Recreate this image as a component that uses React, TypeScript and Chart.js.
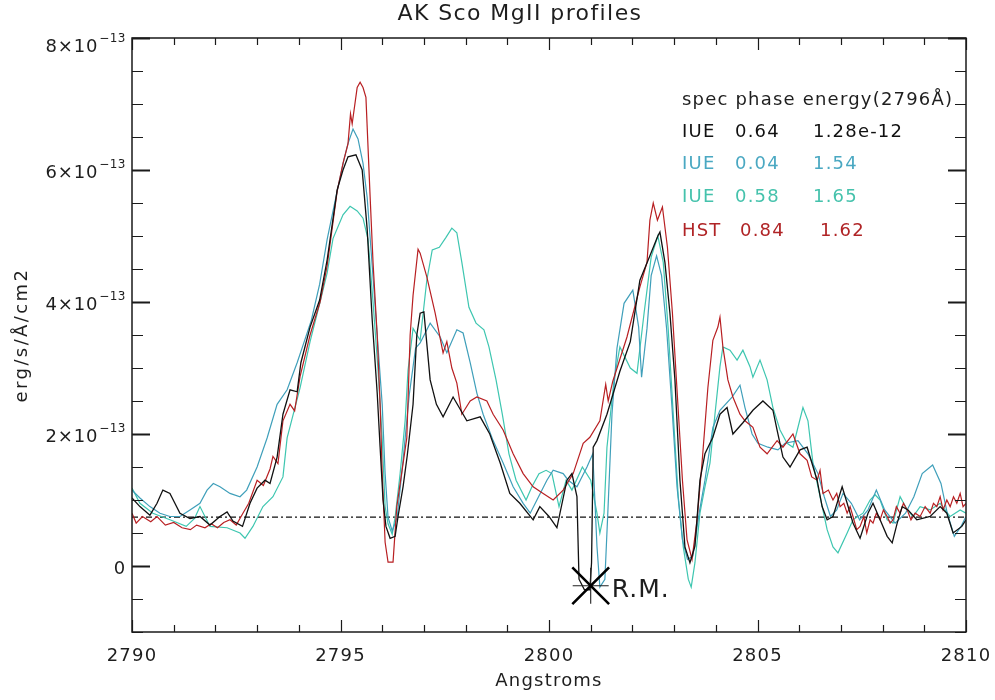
import React, { useEffect, useRef } from 'react';
import { Chart, registerables } from 'chart.js';

Chart.register(...registerables);

// ---------- axes ----------
const X_MIN = 2790;
const X_MAX = 2810;
const Y_MIN = -1; // flux in units of 1e-13 erg/s/Å/cm2
const Y_MAX = 8;
const xMajorTicks = [2790, 2795, 2800, 2805, 2810];
const xMinorStep = 1;
const yMajorTicks = [0, 2, 4, 6, 8];
const yMinorStep = 0.5;
const yExponent = '−13';

const titleText = 'AK Sco MgII profiles';
const xTitle = 'Angstroms';
const yTitle = 'erg/s/Å/cm2';

// ---------- legend table ----------
const legendHeader = 'spec phase energy(2796Å)';
const legendSpec = ['IUE', 'IUE', 'IUE', 'HST'];
const legendPhase = ['0.64', '0.04', '0.58', '0.84'];
const legendEnergy = ['1.28e-12', '1.54', '1.65', '1.62'];
const seriesColors = ['#111111', '#3f9fba', '#3ec6b0', '#b81f22'];
const legendTextColors = ['#111111', '#4aa8c2', '#45c2ac', '#b02426'];

// ---------- reference markers ----------
const baselineLevel = 0.74;
const rmPoint = { x: 2801.0, y: -0.3 };
const rmLabel = 'R.M.';

// ---------- spectra: [wavelength Å, flux (1e-13 erg/s/Å/cm2)] ----------
const iue064: [number, number][] = [
  [2790.0, 1.03], [2790.19, 0.9], [2790.43, 0.77], [2790.6, 0.95], [2790.74, 1.15], [2790.91, 1.1],
  [2791.15, 0.8], [2791.39, 0.72], [2791.63, 0.75], [2791.87, 0.62], [2792.11, 0.75], [2792.28, 0.82],
  [2792.42, 0.68], [2792.65, 0.6], [2792.83, 0.95], [2793.0, 1.18], [2793.19, 1.3], [2793.31, 1.25],
  [2793.48, 1.65], [2793.62, 2.3], [2793.79, 2.67], [2793.96, 2.64], [2794.05, 3.08], [2794.27, 3.62],
  [2794.5, 4.03], [2794.68, 4.64], [2794.92, 5.7], [2795.06, 6.0], [2795.18, 6.2], [2795.37, 6.23],
  [2795.52, 6.0], [2795.64, 5.1], [2795.76, 3.73], [2795.88, 2.62], [2795.95, 1.8], [2796.02, 1.0],
  [2796.09, 0.6], [2796.19, 0.42], [2796.31, 0.45], [2796.38, 0.75], [2796.5, 1.2], [2796.6, 1.67],
  [2796.74, 2.45], [2796.83, 3.5], [2796.91, 3.83], [2797.0, 3.85], [2797.15, 2.82], [2797.3, 2.45],
  [2797.46, 2.26], [2797.7, 2.56], [2798.03, 2.2], [2798.35, 2.26], [2798.58, 2.0], [2798.83, 1.56],
  [2799.06, 1.1], [2799.3, 0.95], [2799.62, 0.7], [2799.78, 0.9], [2800.0, 0.75], [2800.19, 0.58],
  [2800.43, 1.3], [2800.55, 1.4], [2800.67, 1.05], [2800.72, -0.2], [2800.85, -0.36], [2800.98, -0.36],
  [2801.02, 0.05], [2801.06, 1.8], [2801.15, 1.9], [2801.39, 2.3], [2801.7, 2.95], [2801.95, 3.4],
  [2802.18, 4.33], [2802.42, 4.7], [2802.61, 5.0], [2802.66, 5.06], [2802.78, 4.6], [2802.9, 3.83],
  [2803.02, 2.82], [2803.14, 1.3], [2803.26, 0.29], [2803.38, 0.05], [2803.5, 0.3], [2803.62, 1.3],
  [2803.74, 1.7], [2803.93, 1.95], [2804.1, 2.3], [2804.27, 2.4], [2804.41, 2.0], [2804.65, 2.17],
  [2804.89, 2.36], [2805.13, 2.5], [2805.37, 2.36], [2805.47, 2.06], [2805.61, 1.65], [2805.78, 1.5],
  [2806.02, 1.76], [2806.19, 1.8], [2806.43, 1.3], [2806.55, 0.9], [2806.67, 0.7], [2806.81, 0.75],
  [2807.03, 1.2], [2807.15, 0.95], [2807.29, 0.65], [2807.46, 0.42], [2807.65, 0.8], [2807.77, 0.95],
  [2807.94, 0.7], [2808.11, 0.45], [2808.23, 0.35], [2808.35, 0.65], [2808.47, 0.9], [2808.61, 0.85],
  [2808.82, 0.7], [2809.14, 0.75], [2809.38, 0.9], [2809.54, 0.8], [2809.69, 0.5], [2809.9, 0.6],
  [2810.0, 0.7],
];

const iue004: [number, number][] = [
  [2790.0, 1.15], [2790.19, 1.03], [2790.43, 0.9], [2790.67, 0.8], [2790.91, 0.75], [2791.15, 0.75],
  [2791.39, 0.85], [2791.63, 0.95], [2791.8, 1.15], [2791.95, 1.25], [2792.11, 1.2], [2792.35, 1.1],
  [2792.59, 1.05], [2792.75, 1.15], [2793.0, 1.5], [2793.24, 1.94], [2793.48, 2.45], [2793.72, 2.67],
  [2793.96, 3.08], [2794.13, 3.4], [2794.3, 3.72], [2794.5, 4.27], [2794.68, 4.95], [2794.92, 5.68],
  [2795.08, 6.15], [2795.18, 6.4], [2795.3, 6.62], [2795.42, 6.47], [2795.54, 6.1], [2795.64, 5.58],
  [2795.76, 4.55], [2795.88, 3.5], [2796.0, 2.45], [2796.07, 1.4], [2796.14, 0.74], [2796.24, 0.53],
  [2796.36, 0.74], [2796.5, 1.6], [2796.65, 2.6], [2796.8, 3.3], [2796.91, 3.38], [2797.15, 3.68],
  [2797.39, 3.47], [2797.55, 3.23], [2797.79, 3.58], [2797.94, 3.53], [2798.11, 3.08], [2798.27, 2.62],
  [2798.42, 2.3], [2798.66, 1.9], [2798.9, 1.56], [2799.14, 1.2], [2799.38, 0.95], [2799.55, 0.8],
  [2799.71, 1.0], [2799.95, 1.3], [2800.1, 1.45], [2800.34, 1.4], [2800.46, 1.3], [2800.67, 1.2],
  [2800.91, 1.5], [2801.05, 1.7], [2801.15, 0.3], [2801.22, -0.32], [2801.34, -0.2], [2801.41, 0.8],
  [2801.51, 2.3], [2801.63, 3.3], [2801.8, 3.98], [2802.01, 4.18], [2802.15, 3.62], [2802.22, 2.86],
  [2802.35, 3.6], [2802.45, 4.4], [2802.58, 4.7], [2802.7, 4.4], [2802.82, 3.6], [2802.95, 2.4],
  [2803.07, 1.2], [2803.2, 0.4], [2803.32, 0.1], [2803.45, 0.15], [2803.6, 0.8], [2803.74, 1.3],
  [2803.93, 2.1], [2804.1, 2.36], [2804.39, 2.56], [2804.58, 2.74], [2804.7, 2.4], [2804.87, 2.0],
  [2805.01, 1.86], [2805.25, 1.8], [2805.49, 1.76], [2805.66, 1.86], [2805.97, 1.9], [2806.21, 1.7],
  [2806.45, 1.4], [2806.6, 1.05], [2806.75, 0.75], [2806.9, 0.85], [2807.05, 1.1], [2807.25, 0.95],
  [2807.45, 0.7], [2807.65, 0.85], [2807.85, 1.15], [2808.05, 0.85], [2808.3, 0.65], [2808.55, 0.8],
  [2808.75, 1.05], [2808.95, 1.4], [2809.2, 1.53], [2809.4, 1.25], [2809.55, 0.8], [2809.72, 0.45],
  [2809.88, 0.6], [2810.0, 0.75],
];

const iue058: [number, number][] = [
  [2790.0, 1.18], [2790.19, 0.95], [2790.5, 0.8], [2790.91, 0.7], [2791.3, 0.6], [2791.5, 0.72],
  [2791.63, 0.9], [2791.87, 0.6], [2792.28, 0.58], [2792.59, 0.5], [2792.71, 0.42], [2792.9, 0.6],
  [2793.14, 0.9], [2793.38, 1.05], [2793.62, 1.35], [2793.72, 1.94], [2794.03, 2.7], [2794.27, 3.4],
  [2794.51, 4.0], [2794.68, 4.44], [2794.82, 4.96], [2795.06, 5.32], [2795.23, 5.45], [2795.4, 5.38],
  [2795.54, 5.27], [2795.66, 4.95], [2795.78, 4.0], [2795.9, 2.97], [2796.0, 1.94], [2796.07, 0.9],
  [2796.14, 0.64], [2796.24, 0.48], [2796.31, 0.74], [2796.43, 1.4], [2796.55, 2.2], [2796.62, 2.97],
  [2796.74, 3.6], [2796.91, 3.42], [2797.07, 4.33], [2797.2, 4.79], [2797.37, 4.83], [2797.53, 4.98],
  [2797.67, 5.12], [2797.79, 5.05], [2797.91, 4.6], [2798.08, 3.92], [2798.25, 3.68], [2798.44, 3.58],
  [2798.56, 3.32], [2798.73, 2.82], [2798.88, 2.3], [2799.04, 1.7], [2799.21, 1.3], [2799.45, 1.0],
  [2799.59, 1.2], [2799.76, 1.4], [2799.93, 1.45], [2800.07, 1.4], [2800.24, 0.9], [2800.41, 1.3],
  [2800.55, 1.15], [2800.8, 1.5], [2801.0, 1.3], [2801.15, 0.8], [2801.22, 0.5], [2801.32, 0.8],
  [2801.39, 1.8], [2801.56, 2.82], [2801.7, 3.32], [2801.95, 3.0], [2802.11, 2.92], [2802.28, 3.83],
  [2802.45, 4.68], [2802.61, 5.0], [2802.74, 4.6], [2802.86, 3.58], [2802.98, 2.3], [2803.1, 1.05],
  [2803.22, 0.29], [2803.34, -0.2], [2803.41, -0.32], [2803.5, 0.05], [2803.62, 0.8], [2803.74, 1.2],
  [2803.86, 1.56], [2803.98, 2.3], [2804.1, 3.02], [2804.17, 3.32], [2804.34, 3.27], [2804.51, 3.12],
  [2804.65, 3.27], [2804.82, 3.02], [2804.89, 2.86], [2805.06, 3.12], [2805.23, 2.82], [2805.37, 2.4],
  [2805.54, 2.06], [2805.71, 1.86], [2805.85, 1.8], [2806.09, 2.4], [2806.21, 2.2], [2806.33, 1.56],
  [2806.5, 1.05], [2806.67, 0.55], [2806.81, 0.29], [2806.93, 0.2], [2807.15, 0.5], [2807.29, 0.7],
  [2807.53, 0.8], [2807.7, 1.0], [2807.82, 1.08], [2807.94, 1.0], [2808.11, 0.7], [2808.25, 0.65],
  [2808.42, 1.05], [2808.59, 0.85], [2808.73, 0.75], [2808.9, 0.9], [2809.14, 0.85], [2809.38, 0.95],
  [2809.62, 0.75], [2809.86, 0.85], [2810.0, 0.8],
];

const hst084: [number, number][] = [
  [2790.0, 0.8], [2790.1, 0.65], [2790.25, 0.75], [2790.45, 0.67], [2790.6, 0.75], [2790.8, 0.62],
  [2791.0, 0.66], [2791.2, 0.58], [2791.4, 0.55], [2791.55, 0.62], [2791.75, 0.58], [2791.9, 0.64],
  [2792.05, 0.58], [2792.2, 0.66], [2792.35, 0.7], [2792.5, 0.62], [2792.66, 0.8], [2792.8, 0.95],
  [2793.0, 1.3], [2793.15, 1.22], [2793.31, 1.47], [2793.38, 1.66], [2793.5, 1.55], [2793.62, 2.2],
  [2793.79, 2.45], [2793.9, 2.35], [2794.03, 2.87], [2794.27, 3.5], [2794.51, 4.0], [2794.68, 4.55],
  [2794.92, 5.68], [2795.06, 6.1], [2795.18, 6.4], [2795.24, 6.85], [2795.28, 6.7], [2795.4, 7.25],
  [2795.47, 7.33], [2795.54, 7.25], [2795.61, 7.1], [2795.71, 5.6], [2795.78, 4.6], [2795.88, 3.5],
  [2795.95, 2.45], [2796.0, 1.4], [2796.07, 0.36], [2796.14, 0.06], [2796.26, 0.06], [2796.35, 0.9],
  [2796.59, 1.94], [2796.67, 3.5], [2796.74, 4.1], [2796.86, 4.8], [2796.91, 4.74], [2797.07, 4.38],
  [2797.27, 3.83], [2797.46, 3.23], [2797.55, 3.4], [2797.67, 3.0], [2797.79, 2.77], [2797.91, 2.3],
  [2798.11, 2.5], [2798.27, 2.56], [2798.51, 2.5], [2798.66, 2.3], [2798.9, 2.06], [2799.14, 1.7],
  [2799.38, 1.4], [2799.62, 1.2], [2799.86, 1.1], [2800.1, 1.0], [2800.34, 1.15], [2800.58, 1.4],
  [2800.82, 1.86], [2800.98, 1.95], [2801.22, 2.2], [2801.36, 2.75], [2801.42, 2.5], [2801.53, 2.8],
  [2801.87, 3.47], [2802.18, 4.23], [2802.35, 4.6], [2802.42, 5.24], [2802.5, 5.5], [2802.6, 5.24],
  [2802.72, 5.44], [2802.84, 4.83], [2802.96, 3.83], [2803.08, 2.56], [2803.2, 1.3], [2803.31, 0.4],
  [2803.43, 0.1], [2803.55, 0.7], [2803.67, 1.56], [2803.81, 2.7], [2803.93, 3.42], [2804.05, 3.62],
  [2804.1, 3.77], [2804.17, 3.32], [2804.29, 2.82], [2804.41, 2.56], [2804.58, 2.3], [2804.7, 2.2],
  [2804.89, 2.1], [2805.06, 1.8], [2805.23, 1.7], [2805.47, 1.9], [2805.61, 1.8], [2805.85, 2.0],
  [2806.02, 1.7], [2806.19, 1.6], [2806.3, 1.35], [2806.43, 1.3], [2806.5, 1.45], [2806.57, 1.1],
  [2806.7, 1.15], [2806.81, 1.0], [2806.9, 1.1], [2806.98, 0.9], [2807.07, 0.95], [2807.15, 0.8],
  [2807.22, 0.9], [2807.29, 0.75], [2807.38, 0.55], [2807.46, 0.6], [2807.55, 0.75], [2807.62, 0.5],
  [2807.7, 0.7], [2807.77, 0.65], [2807.85, 0.8], [2807.94, 0.7], [2808.02, 0.85], [2808.11, 0.75],
  [2808.18, 0.65], [2808.25, 0.7], [2808.33, 0.9], [2808.42, 0.8], [2808.5, 0.95], [2808.59, 0.85],
  [2808.68, 0.7], [2808.78, 0.8], [2808.9, 0.75], [2809.02, 0.9], [2809.14, 0.8], [2809.22, 0.95],
  [2809.3, 0.9], [2809.38, 1.05], [2809.45, 0.85], [2809.54, 1.0], [2809.62, 0.9], [2809.7, 1.05],
  [2809.78, 0.95], [2809.86, 1.1], [2809.93, 0.9], [2810.0, 0.95],
];

const FONT = '"DejaVu Sans", "Liberation Sans", sans-serif';
const TEXT_COLOR = '#1e1e1e';

function toXY(arr: [number, number][]) {
  return arr.map(([x, y]) => ({ x, y }));
}

const decorPlugin = {
  id: 'idlDecor',
  afterDatasetsDraw(chart: any) {
    const { ctx, chartArea: a, scales } = chart;
    const xs = scales.x;
    const ys = scales.y;
    ctx.save();
    ctx.strokeStyle = '#1a1a1a';
    ctx.lineWidth = 1.5;
    ctx.strokeRect(a.left, a.top, a.right - a.left, a.bottom - a.top);

    ctx.lineWidth = 1.2;
    for (let v = X_MIN; v <= X_MAX + 1e-9; v += xMinorStep) {
      const px = Math.round(xs.getPixelForValue(v)) + 0.5;
      const major = xMajorTicks.includes(Math.round(v));
      const len = major ? 12 : 7;
      ctx.beginPath();
      ctx.moveTo(px, a.bottom);
      ctx.lineTo(px, a.bottom - len);
      ctx.moveTo(px, a.top);
      ctx.lineTo(px, a.top + len);
      ctx.stroke();
    }
    for (let v = Y_MIN; v <= Y_MAX + 1e-9; v += yMinorStep) {
      const py = Math.round(ys.getPixelForValue(v)) + 0.5;
      const major = yMajorTicks.some((t) => Math.abs(t - v) < 1e-9);
      const len = major ? 18 : 11;
      ctx.lineWidth = major ? 1.8 : 1.2;
      ctx.beginPath();
      ctx.moveTo(a.left, py);
      ctx.lineTo(a.left + len, py);
      ctx.moveTo(a.right, py);
      ctx.lineTo(a.right - len, py);
      ctx.stroke();
    }
    ctx.restore();
  },
  afterDraw(chart: any) {
    const { ctx, chartArea: a, scales } = chart;
    const xs = scales.x;
    const ys = scales.y;
    ctx.save();
    ctx.fillStyle = TEXT_COLOR;
    ctx.textBaseline = 'middle';

    // title
    ctx.font = `22px ${FONT}`;
    (ctx as any).letterSpacing = '1.4px';
    ctx.textAlign = 'center';
    ctx.fillText(titleText, 520, 14);

    // x tick labels and title
    ctx.font = `18px ${FONT}`;
    (ctx as any).letterSpacing = '1.2px';
    xMajorTicks.forEach((t) => {
      ctx.fillText(String(t), xs.getPixelForValue(t), 656);
    });
    ctx.fillText(xTitle, (a.left + a.right) / 2, 681);

    // y tick labels
    const rightEdge = a.left - 6;
    yMajorTicks.forEach((t) => {
      const py = Math.max(ys.getPixelForValue(t) + 3, 47);
      ctx.textAlign = 'right';
      if (t === 0) {
        ctx.font = `18px ${FONT}`;
        (ctx as any).letterSpacing = '0.8px';
        ctx.fillText('0', rightEdge, py);
        return;
      }
      ctx.font = `12px ${FONT}`;
      (ctx as any).letterSpacing = '0.5px';
      const supW = ctx.measureText(yExponent).width;
      ctx.fillText(yExponent, rightEdge, py - 8);
      ctx.font = `18px ${FONT}`;
      (ctx as any).letterSpacing = '0.8px';
      ctx.fillText(`${t}×10`, rightEdge - supW - 1, py);
    });

    // y title
    ctx.save();
    ctx.translate(22, 335);
    ctx.rotate(-Math.PI / 2);
    ctx.textAlign = 'center';
    ctx.font = `18px ${FONT}`;
    (ctx as any).letterSpacing = '2.4px';
    ctx.fillText(yTitle, 0, 0);
    ctx.restore();

    // legend table
    (ctx as any).letterSpacing = '1.2px';
    ctx.font = `18px ${FONT}`;
    ctx.textAlign = 'left';
    ctx.fillStyle = TEXT_COLOR;
    ctx.fillText(legendHeader, 682, 100);
    const rowY = [132, 164, 197, 231];
    legendSpec.forEach((s, i) => {
      ctx.fillStyle = legendTextColors[i];
      const hst = s === 'HST';
      ctx.fillText(s, 682, rowY[i]);
      ctx.fillText(legendPhase[i], hst ? 740 : 735, rowY[i]);
      ctx.fillText(legendEnergy[i], hst ? 820 : 813, rowY[i]);
    });

    // R.M. label
    ctx.fillStyle = TEXT_COLOR;
    ctx.font = `25px ${FONT}`;
    (ctx as any).letterSpacing = '1px';
    ctx.fillText(rmLabel, xs.getPixelForValue(rmPoint.x) + 21, ys.getPixelForValue(rmPoint.y) + 5);
    ctx.restore();
  },
};

export default function App() {
  const ref = useRef<HTMLCanvasElement | null>(null);

  useEffect(() => {
    if (!ref.current) return;
    const lineDs = (label: string, data: [number, number][], color: string, width = 1.2) => ({
      label,
      data: toXY(data),
      borderColor: color,
      backgroundColor: color,
      borderWidth: width,
      pointRadius: 0,
      tension: 0,
      fill: false,
    });
    const chart = new Chart(ref.current, {
      type: 'line',
      data: {
        datasets: [
          {
            label: 'R.M. x',
            data: [rmPoint],
            showLine: false,
            pointStyle: 'crossRot',
            pointRadius: 26,
            borderColor: '#000',
            borderWidth: 2.6,
            backgroundColor: '#000',
          } as any,
          {
            label: 'R.M. +',
            data: [rmPoint],
            showLine: false,
            pointStyle: 'cross',
            pointRadius: 18,
            borderColor: '#222',
            borderWidth: 1.1,
            backgroundColor: '#222',
          } as any,
          lineDs('IUE 0.64', iue064, seriesColors[0], 1.3),
          lineDs('HST 0.84', hst084, seriesColors[3], 1.2),
          lineDs('IUE 0.04', iue004, seriesColors[1], 1.2),
          lineDs('IUE 0.58', iue058, seriesColors[2], 1.2),
          {
            label: 'baseline',
            data: [
              { x: X_MIN, y: baselineLevel },
              { x: X_MAX, y: baselineLevel },
            ],
            borderColor: '#111',
            borderWidth: 1.1,
            borderDash: [6, 3, 2, 3],
            pointRadius: 0,
          } as any,
        ],
      },
      options: {
        responsive: false,
        animation: false,
        events: [],
        layout: { padding: { left: 132, right: 29, top: 38, bottom: 68 } },
        plugins: { legend: { display: false }, title: { display: false }, tooltip: { enabled: false } },
        scales: {
          x: { type: 'linear', min: X_MIN, max: X_MAX, display: false },
          y: { type: 'linear', min: Y_MIN, max: Y_MAX, display: false },
        },
      },
      plugins: [decorPlugin],
    });
    return () => chart.destroy();
  }, []);

  return (
    <div style={{ position: 'absolute', left: 0, top: 0, width: 995, height: 700, background: '#fff' }}>
      <canvas ref={ref} width={995} height={700} />
    </div>
  );
}
